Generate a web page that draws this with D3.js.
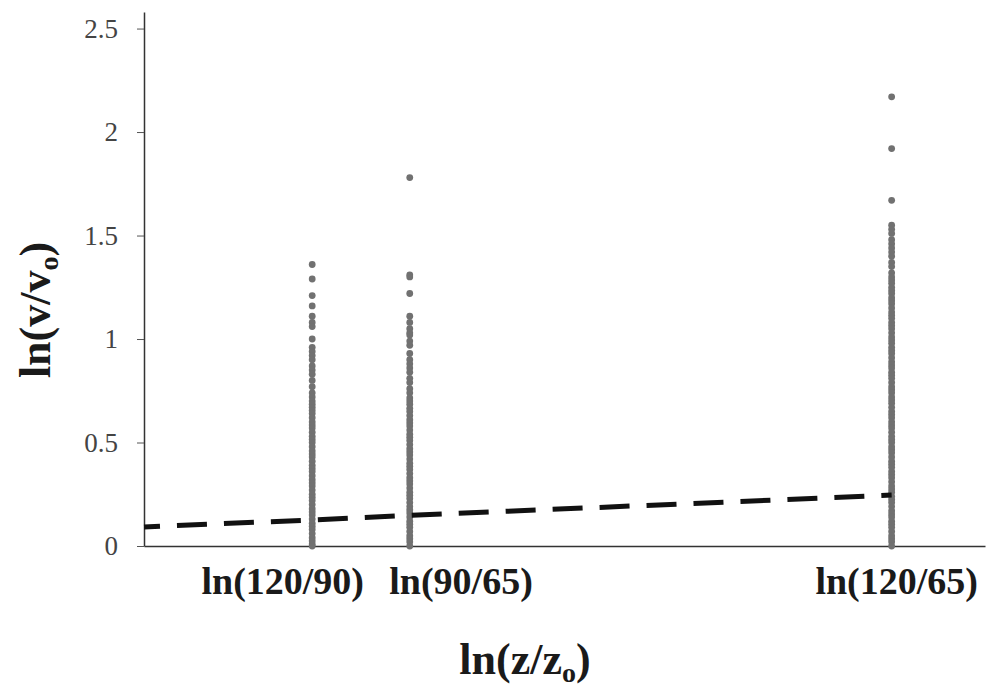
<!DOCTYPE html>
<html>
<head>
<meta charset="utf-8">
<script src="https://cdn.jsdelivr.net/npm/d3@7"></script>
<style>
  html, body { margin: 0; padding: 0; background: #ffffff; }
  svg { display: block; }
</style>
</head>
<body>
<svg id="chart" width="992" height="687"></svg>
<script>
// ---- data ----
// positions of the three groups along the x axis (axis units, 0..1)
const groupNames = ["ln(120/90)", "ln(90/65)", "ln(120/65)"];
const groupPos = [0.200, 0.316, 0.889];
// where each category label is centred (axis units)
const labelPos = [0.165, 0.377, 0.895];

const group1Values = [1.36,1.29,1.21,1.16,1.11,1.08,1.06,1.00,0.96,0.94,0.92,0.90,0.87,0.85,0.83,0.80,0.77,0.74,0.72,
  0.70,0.685,0.67,0.655,0.64,0.62,0.60,0.585,0.57,0.55,0.53,0.515,0.50,0.48,0.46,0.445,0.43,0.41,0.39,0.375,0.36,
  0.34,0.32,0.305,0.29,0.27,0.25,0.235,0.22,0.20,0.18,0.165,0.15,0.13,0.11,0.095,0.08,0.06,0.04,0.025,0.01,0.0];

const group2Values = [1.78,1.31,1.30,1.22,1.11,1.08,1.05,1.03,1.02,0.99,0.97,0.93,0.90,0.88,0.86,0.84,0.81,0.79,0.76,0.74,0.715,
  0.70,0.685,0.665,0.65,0.63,0.61,0.595,0.58,0.56,0.54,0.525,0.51,0.49,0.47,0.455,0.44,0.42,0.40,0.385,0.37,
  0.35,0.33,0.315,0.30,0.28,0.26,0.245,0.23,0.21,0.19,0.175,0.16,0.14,0.12,0.105,0.09,0.07,0.05,0.035,0.02,0.0];

const group3Values = [2.17,1.92,1.67,1.55,1.53,1.51,1.48,1.46,1.44,1.42,1.40,1.37,1.35,1.32,1.30,
  1.285,1.27,1.25,1.235,1.22,1.20,1.185,1.17,1.15,1.13,1.115,1.10,1.08,1.065,1.05,1.03,1.01,0.995,0.98,0.96,
  0.945,0.93,0.91,0.89,0.875,0.86,0.84,0.825,0.81,0.79,0.77,0.755,0.74,0.72,0.705,0.69,0.67,0.65,0.635,0.62,
  0.60,0.585,0.57,0.55,0.53,0.515,0.50,0.48,0.465,0.45,0.43,0.41,0.395,0.38,0.36,0.345,0.33,0.31,0.29,0.275,
  0.26,0.24,0.225,0.21,0.19,0.17,0.155,0.14,0.12,0.105,0.09,0.07,0.05,0.035,0.02,0.0];

// dashed fitted line
const trendX = [0.0, 0.200, 0.316, 0.889];
const trendY = [0.092, 0.126, 0.148, 0.246];

const yTicks = [0, 0.5, 1, 1.5, 2, 2.5];
const yTickLabels = ["0", "0.5", "1", "1.5", "2", "2.5"];

// ---- drawing ----
const svg = d3.select("#chart");
const serif = "'Liberation Serif', 'Times New Roman', serif";

const x = d3.scaleLinear().domain([0, 1]).range([144, 985]);
const y = d3.scaleLinear().domain([0, 2.58]).range([546, 12]);

// y axis
const yAxis = d3.axisLeft(y)
  .tickValues(yTicks)
  .tickFormat((d, i) => yTickLabels[i])
  .tickSize(7)
  .tickPadding(19)
  .tickSizeOuter(0);
const gy = svg.append("g").attr("transform", `translate(${x(0)},0)`).call(yAxis);
gy.select(".domain").attr("stroke", "#333").attr("stroke-width", 1.5);
gy.selectAll(".tick line").attr("stroke", "#555").attr("stroke-width", 1);
gy.selectAll(".tick text")
  .attr("font-family", serif)
  .attr("font-size", 27)
  .attr("fill", "#444");

// x axis (plain line, no ticks)
const xAxis = d3.axisBottom(x).tickValues([]).tickSizeOuter(0);
const gx = svg.append("g").attr("transform", `translate(0,${y(0)})`).call(xAxis);
gx.select(".domain").attr("stroke", "#333").attr("stroke-width", 1.5);

// points
const groups = [group1Values, group2Values, group3Values];
groups.forEach((vals, gi) => {
  svg.append("g").selectAll("circle")
    .data(vals)
    .join("circle")
    .attr("cx", x(groupPos[gi]))
    .attr("cy", d => y(d))
    .attr("r", 3.4)
    .attr("fill", "#717171");
});

// dashed line
const line = d3.line().x(d => x(d[0])).y(d => y(d[1]));
svg.append("path")
  .datum(trendX.map((v, i) => [v, trendY[i]]))
  .attr("d", line)
  .attr("fill", "none")
  .attr("stroke", "#111")
  .attr("stroke-width", 5)
  .attr("stroke-dasharray", "30,17")
  .attr("stroke-dashoffset", 14);

// category labels
svg.append("g").selectAll("text")
  .data(groupNames)
  .join("text")
  .attr("x", (d, i) => x(labelPos[i]))
  .attr("y", 594)
  .attr("text-anchor", "middle")
  .attr("font-family", serif)
  .attr("font-weight", "bold")
  .attr("font-size", 38)
  .attr("fill", "#1a1a1a")
  .text(d => d);

// axis titles
const xt = svg.append("text")
  .attr("x", 525)
  .attr("y", 674)
  .attr("text-anchor", "middle")
  .attr("font-family", serif)
  .attr("font-weight", "bold")
  .attr("font-size", 44)
  .attr("fill", "#1a1a1a");
xt.append("tspan").text("ln(z/z");
xt.append("tspan").attr("font-size", 28).attr("dy", 8).text("o");
xt.append("tspan").attr("dy", -8).text(")");

const yt = svg.append("text")
  .attr("transform", "translate(50,310) rotate(-90)")
  .attr("text-anchor", "middle")
  .attr("font-family", serif)
  .attr("font-weight", "bold")
  .attr("font-size", 44)
  .attr("fill", "#1a1a1a");
yt.append("tspan").text("ln(v/v");
yt.append("tspan").attr("font-size", 28).attr("dy", 8).text("o");
yt.append("tspan").attr("dy", -8).text(")");
</script>
</body>
</html>
